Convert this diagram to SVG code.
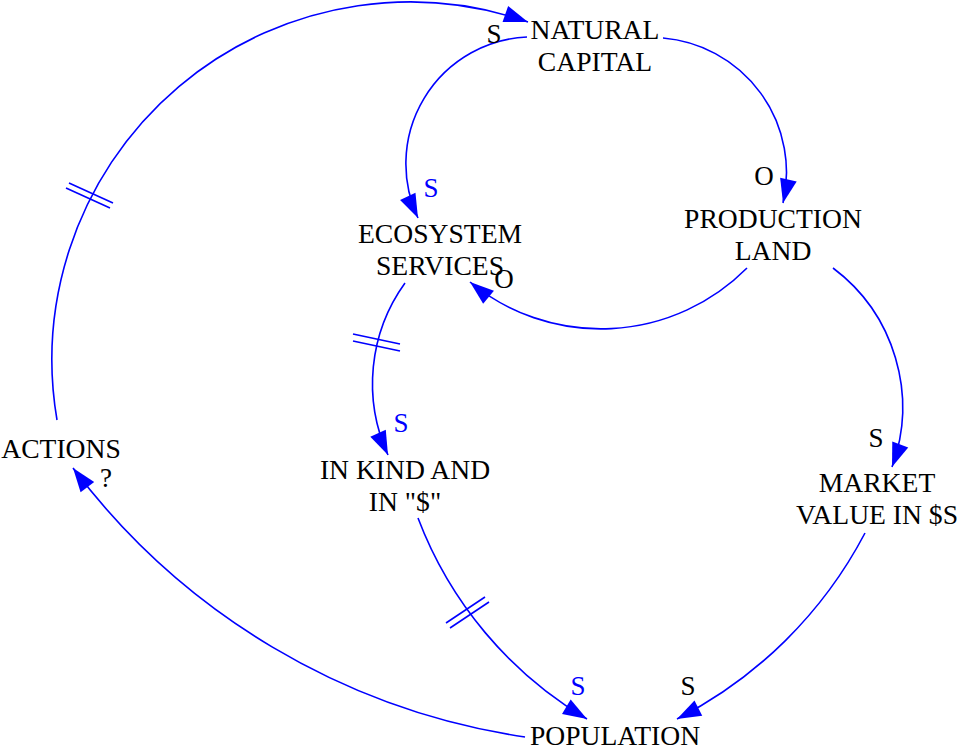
<svg xmlns="http://www.w3.org/2000/svg" width="957" height="748" viewBox="0 0 957 748">
<defs>
<marker id="ah" markerUnits="userSpaceOnUse" viewBox="-25 -9 26 18" refX="0" refY="0" markerWidth="26" markerHeight="18" orient="auto">
<path d="M0,0 L-24,-8.5 L-24,8.5 Z" fill="#0000FF"/>
</marker>
<style>
.n{font-family:"Liberation Serif","Times New Roman",serif;font-size:27.6px;fill:#000;text-anchor:middle}
.p{font-family:"Liberation Serif","Times New Roman",serif;font-size:27px;text-anchor:middle}
.b{fill:#0000FF}
.k{fill:#000}
.c{fill:none;stroke:#0000FF;stroke-width:1.6;marker-end:url(#ah)}
.h{stroke:#0000FF;stroke-width:1.6}
</style>
</defs>
<rect width="957" height="748" fill="#fff"/>
<g id="connectors">
<path class="c" d="M57,420 A358,358 0 0 1 528,22"/>
<line class="h" x1="69" y1="183" x2="113" y2="203"/>
<line class="h" x1="66" y1="188" x2="110" y2="208"/>
<path class="c" d="M527,37 A127,127 0 0 0 418,218"/>
<path class="c" d="M663,38 A135,135 0 0 1 783,203"/>
<path class="c" d="M747,268 A206,206 0 0 1 470,282"/>
<path class="c" d="M405,283 A172,172 0 0 0 388,455"/>
<line class="h" x1="353" y1="334" x2="400" y2="344"/>
<line class="h" x1="353" y1="341" x2="400" y2="351"/>
<path class="c" d="M418,518 A397,397 0 0 0 587,719"/>
<line class="h" x1="446" y1="623" x2="485" y2="597"/>
<line class="h" x1="450" y1="628" x2="489" y2="602"/>
<path class="c" d="M833,268 A174,174 0 0 1 892,467"/>
<path class="c" d="M865,533 A437,437 0 0 1 677,719"/>
<path class="c" d="M525,737 A692,692 0 0 1 73,468"/>
</g>
<g id="natural-capital"><text class="n" x="595" y="39">NATURAL</text><text class="n" x="595" y="71">CAPITAL</text></g>
<g id="ecosystem-services"><text class="n" x="440" y="243">ECOSYSTEM</text><text class="n" x="440" y="275">SERVICES</text></g>
<g id="production-land"><text class="n" x="773" y="228">PRODUCTION</text><text class="n" x="773" y="260">LAND</text></g>
<g id="actions"><text class="n" x="61" y="458">ACTIONS</text></g>
<g id="in-kind"><text class="n" x="405" y="479">IN KIND AND</text><text class="n" x="405" y="511">IN "$"</text></g>
<g id="market-value"><text class="n" x="877" y="492">MARKET</text><text class="n" x="877" y="524">VALUE IN $S</text></g>
<g id="population"><text class="n" x="615" y="745">POPULATION</text></g>
<g id="polarities">
<text class="p k" x="494" y="43">S</text>
<text class="p b" x="431" y="197">S</text>
<text class="p k" x="764" y="185">O</text>
<text class="p k" x="504" y="288">O</text>
<text class="p b" x="401" y="432">S</text>
<text class="p k" x="876" y="447">S</text>
<text class="p b" x="578" y="695">S</text>
<text class="p k" x="688" y="695">S</text>
<text class="p k" x="106" y="487">?</text>
</g>
</svg>
